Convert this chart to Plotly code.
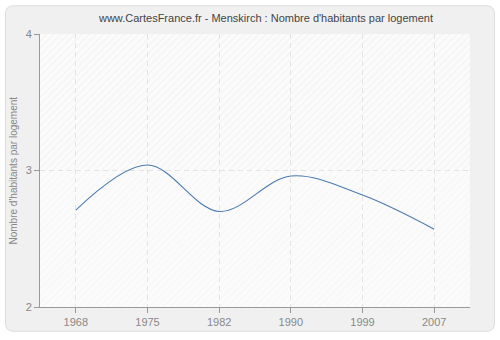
import plotly.graph_objects as go

# Census years and average number of inhabitants per dwelling
years = ["1968", "1975", "1982", "1990", "1999", "2007"]
habitants_par_logement = [2.71, 3.04, 2.70, 2.96, 2.82, 2.57]
y_ticks = [2, 3, 4]

idx = list(range(len(years)))
FONT = "Liberation Sans"

fig = go.Figure()

# hatched plot background: upper band a bit darker than lower band
for lo, hi, fg in [(3, 4, "#e6e6e6"), (2, 3, "#efefef")]:
    fig.add_trace(go.Scatter(
        x=[-0.5, 5.5, 5.5, -0.5, -0.5], y=[lo, lo, hi, hi, lo],
        mode="none", fill="toself", fillcolor="rgba(0,0,0,0)",
        fillpattern=dict(shape="/", fgcolor=fg, bgcolor="rgba(0,0,0,0)",
                         size=5, solidity=0.2, fillmode="overlay"),
        hoverinfo="skip", showlegend=False,
    ))

fig.add_trace(go.Scatter(
    x=idx, y=habitants_par_logement, mode="lines",
    line=dict(color="#4a7ab0", width=1.1, shape="spline", smoothing=1.0),
    showlegend=False,
))

W, H = 500, 340
L, R, T, B = 40, 30, 34, 30
pw, ph = W - L - R, H - T - B


def px(x):
    return (x - L) / pw


def py(y):
    return (H - B - y) / ph


# rounded outer frame
x0, x1, y0, y1, r = 5.5, 494.5, 5.5, 334.5, 8
path = (
    f"M {px(x0 + r)} {py(y0)} L {px(x1 - r)} {py(y0)} Q {px(x1)} {py(y0)} {px(x1)} {py(y0 + r)} "
    f"L {px(x1)} {py(y1 - r)} Q {px(x1)} {py(y1)} {px(x1 - r)} {py(y1)} "
    f"L {px(x0 + r)} {py(y1)} Q {px(x0)} {py(y1)} {px(x0)} {py(y1 - r)} "
    f"L {px(x0)} {py(y0 + r)} Q {px(x0)} {py(y0)} {px(x0 + r)} {py(y0)} Z"
)
fig.add_shape(type="path", path=path, xref="paper", yref="paper",
              fillcolor="#f0f0f0", line=dict(color="#dddddd", width=1), layer="below")
# plot area fill
fig.add_shape(type="rect", xref="paper", yref="paper", x0=0, x1=1, y0=0, y1=1,
              fillcolor="#fbfbfb", line=dict(width=0), layer="below")

fig.update_layout(
    width=W, height=H,
    margin=dict(l=L, r=R, t=T, b=B),
    paper_bgcolor="white",
    plot_bgcolor="rgba(0,0,0,0)",
    title=dict(text="www.CartesFrance.fr - Menskirch : Nombre d'habitants par logement",
               x=266 / W, xanchor="center", y=1 - 18 / H, yanchor="middle",
               xref="container", yref="container",
               font=dict(family=FONT, size=11, color="#444444")),
    xaxis=dict(
        range=[-0.5, 5.5], tickvals=idx, ticktext=years,
        showgrid=True, gridcolor="#e3e3e3", griddash="5px,4px", gridwidth=1,
        showline=True, linecolor="#999999", linewidth=1,
        ticks="outside", ticklen=5, tickcolor="#999999",
        tickfont=dict(family=FONT, size=11, color="#888888"),
        zeroline=False, fixedrange=True,
    ),
    yaxis=dict(
        range=[2, 4], tickvals=y_ticks,
        showgrid=True, gridcolor="#e3e3e3", griddash="5px,4px", gridwidth=1,
        showline=True, linecolor="#999999", linewidth=1,
        ticks="outside", ticklen=5, tickcolor="#999999",
        tickfont=dict(family=FONT, size=11, color="#888888"),
        zeroline=False, fixedrange=True,
    ),
    annotations=[dict(
        text="Nombre d'habitants par logement", textangle=-90,
        x=px(13), y=0.5, xref="paper", yref="paper",
        xanchor="center", yanchor="middle", showarrow=False,
        font=dict(family=FONT, size=10, color="#888888"),
    )],
)

fig.write_html("out.html")
